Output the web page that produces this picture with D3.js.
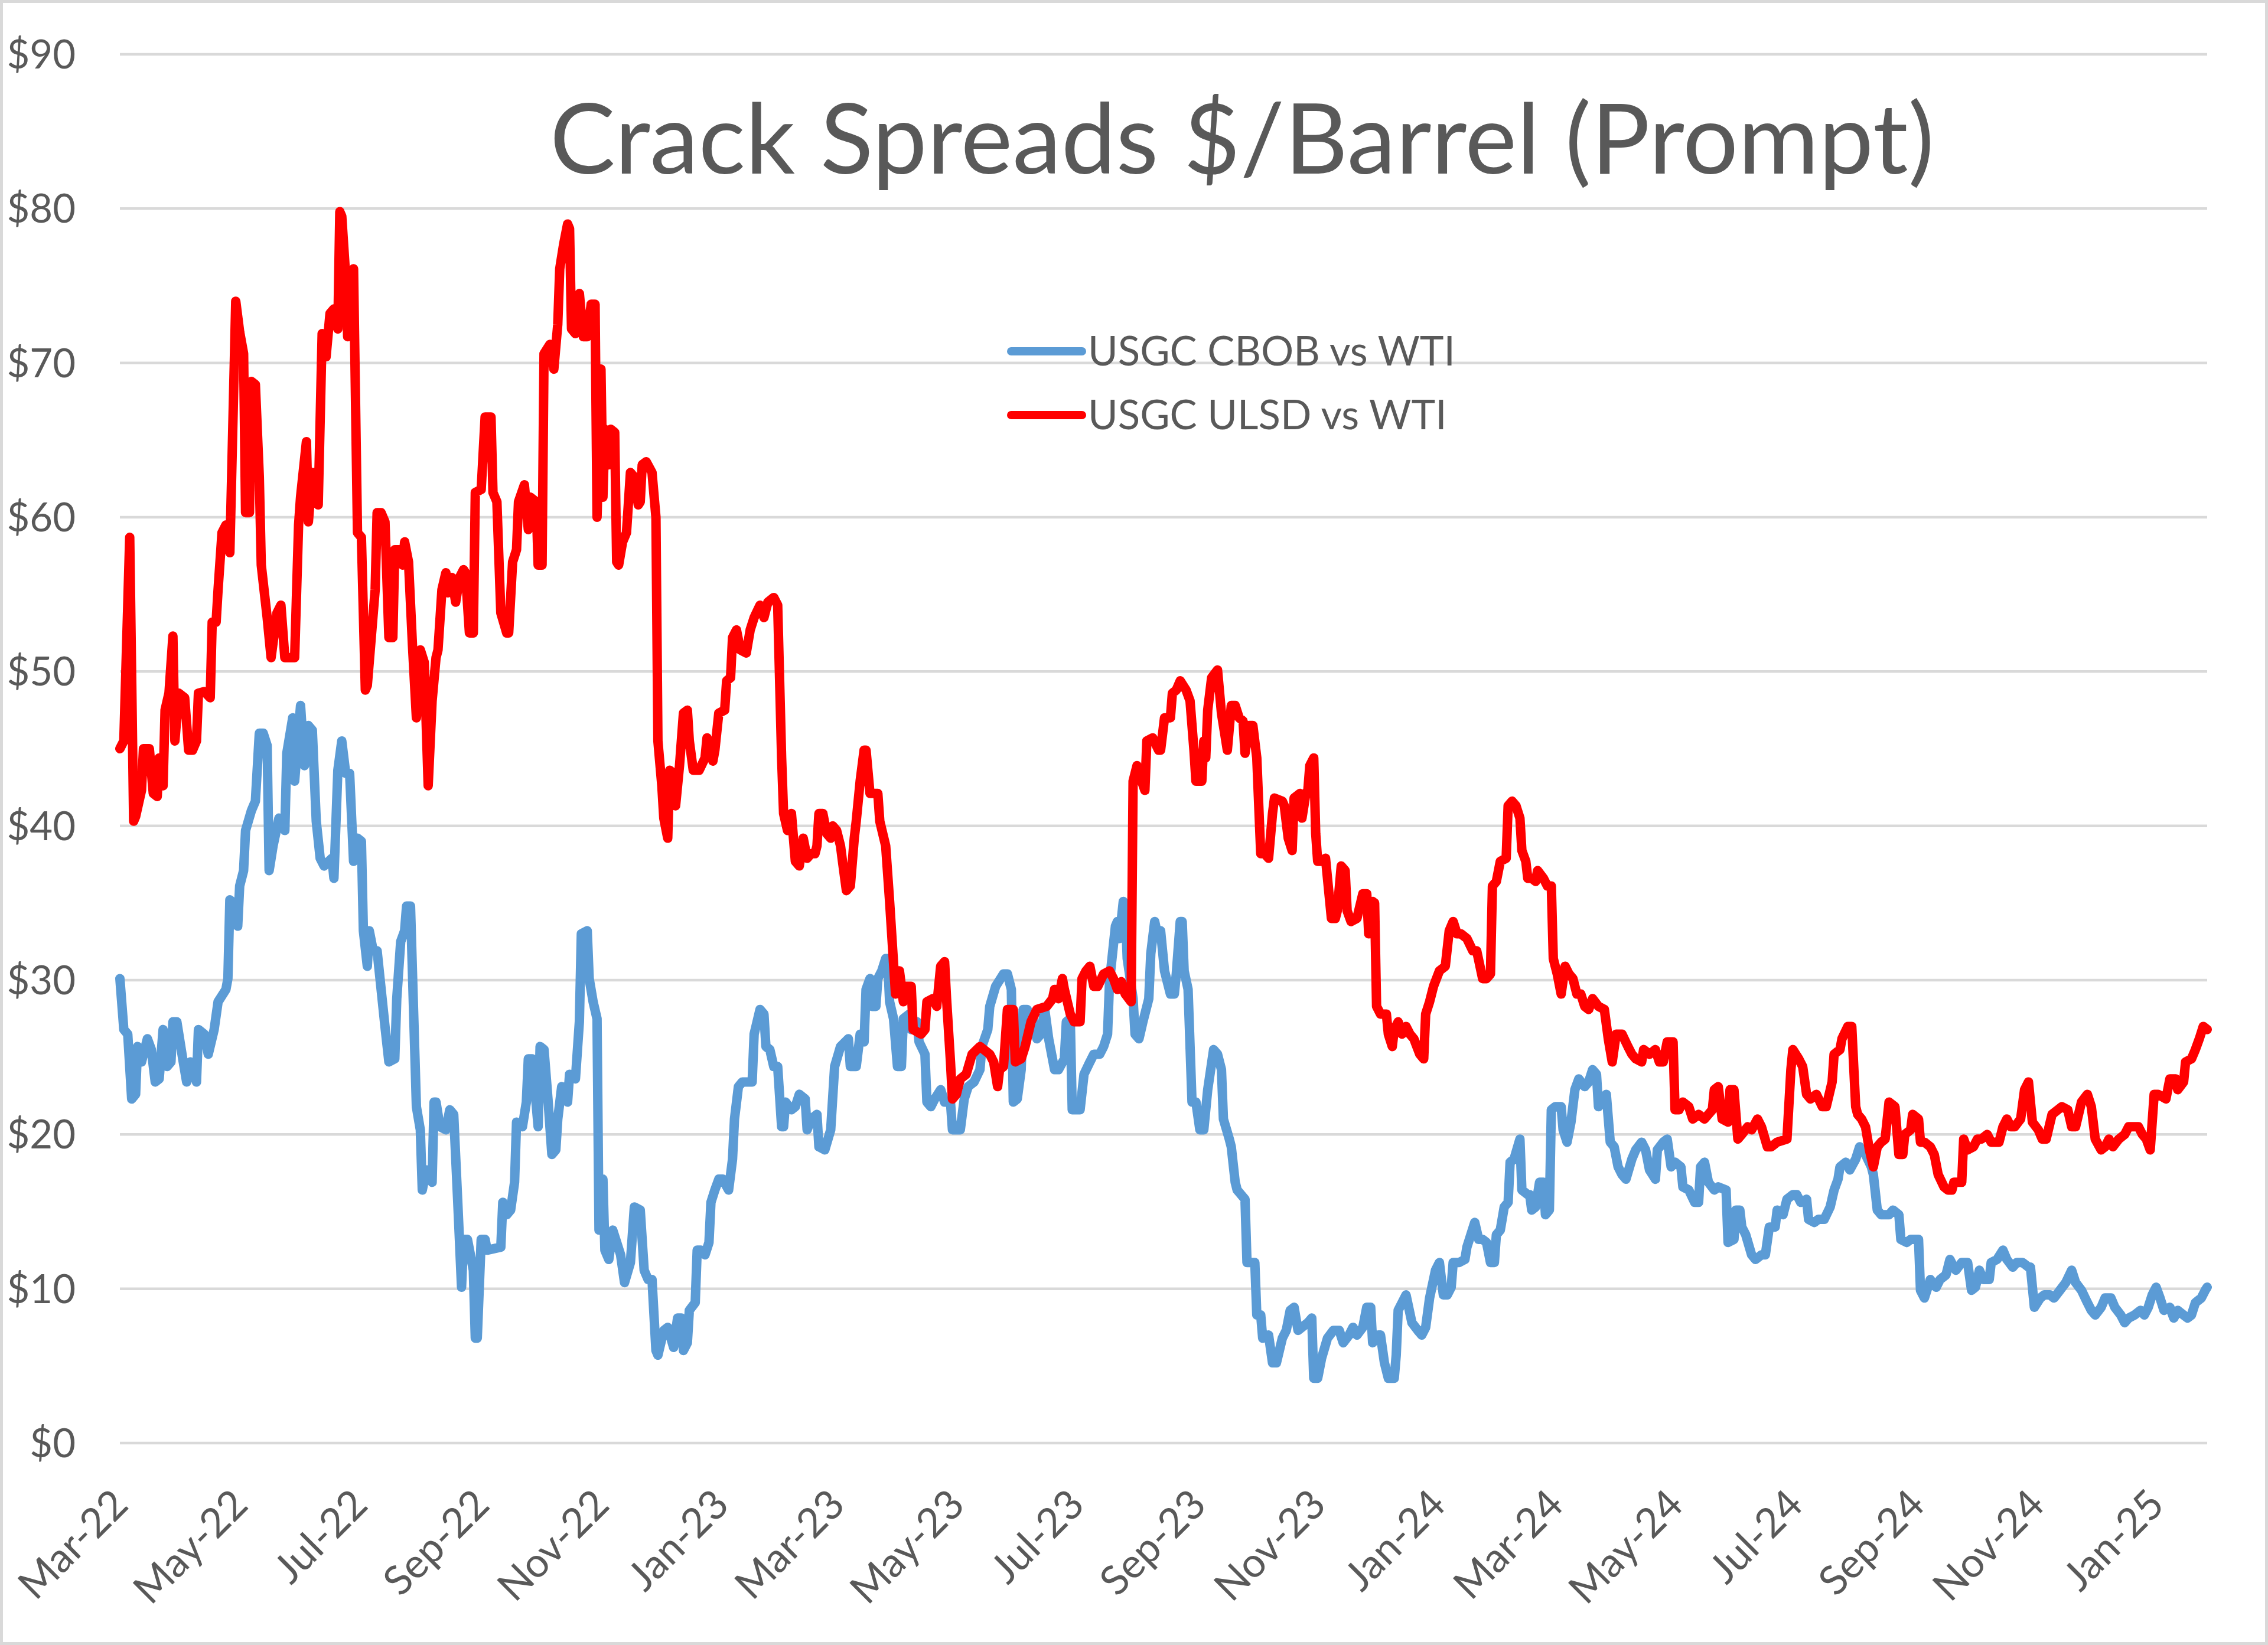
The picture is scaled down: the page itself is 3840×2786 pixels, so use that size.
<!DOCTYPE html>
<html><head><meta charset="utf-8">
<script src="https://cdn.jsdelivr.net/npm/d3@7"></script>
<style>html,body{margin:0;padding:0;background:#fff}</style>
</head><body>
<svg id="chart" width="3840" height="2786"></svg>
<script>
// ---------------- data ----------------
const chartTitle = "Crack Spreads $/Barrel (Prompt)";
const seriesNames = ["USGC CBOB vs WTI", "USGC ULSD vs WTI"];
const seriesColors = ["#5B9BD5", "#FF0000"];
const startDate = "2022-03-01";          // day 0 of the series below
const yTickValues = [0, 10, 20, 30, 40, 50, 60, 70, 80, 90];

// [days since startDate, $/bbl]
const cbobSeries = [
[0,30.1],[2,26.8],[4,26.5],[6,22.3],[8,22.6],[9,25.7],[11,24.7],[14,26.2],[16,25.5],[18,23.4],[20,23.6],[22,26.8],[24,24.4],[26,24.7],[27,27.3],[29,27.3],[32,24.9],[34,23.4],[36,24.7],[39,23.4],[40,26.8],[43,26.5],[45,25.2],[48,26.8],[50,28.6],[54,29.4],[55,30.1],[56,35.2],[57,35.1],[60,33.5],[61,36.1],[63,37.1],[64,39.7],[67,41.0],[69,41.6],[71,46.0],[73,46.0],[75,45.2],[76,37.1],[78,38.7],[81,40.5],[84,39.7],[85,44.7],[88,47.0],[89,42.9],[92,47.8],[94,43.9],[96,46.5],[98,46.2],[100,40.3],[102,37.9],[104,37.4],[108,37.9],[109,36.6],[111,43.6],[113,45.5],[115,43.4],[117,43.4],[119,37.7],[121,39.2],[123,39.0],[124,33.2],[126,30.9],[127,33.2],[129,31.9],[131,31.9],[135,27.0],[137,24.7],[140,24.9],[141,28.8],[143,32.5],[145,33.2],[146,34.8],[148,34.8],[151,21.8],[153,20.3],[154,16.4],[156,17.7],[159,16.9],[160,22.1],[161,22.1],[163,20.5],[166,20.3],[168,21.6],[170,21.3],[172,15.8],[174,10.1],[175,13.2],
[177,13.2],[180,11.2],[181,6.8],[182,6.8],[184,13.2],[186,13.2],[187,12.5],[194,12.7],[195,15.6],[197,14.8],[199,15.1],[201,16.9],[202,20.8],[205,20.5],[207,22.1],[208,24.9],[210,24.9],[213,20.5],[214,25.7],[216,25.5],[218,22.3],[220,18.7],[222,19.0],[223,21.0],[225,23.1],[228,22.1],[229,23.9],[232,23.6],[234,27.3],[235,33.0],[238,33.2],[239,30.1],[241,28.6],[243,27.5],[244,13.8],[245,17.1],[246,17.1],[247,12.5],[249,11.9],[251,13.8],[253,13.0],[255,12.2],[257,10.4],[260,11.7],[262,15.3],[265,15.1],[267,11.2],[269,10.6],[271,10.6],[273,6.0],[274,5.7],[277,7.3],[279,7.5],[282,6.2],[284,8.1],[286,8.1],[287,6.0],[289,6.5],[290,8.6],[293,9.1],[294,12.5],[296,12.5],[298,12.2],[300,13.0],[301,15.6],[303,16.4],[305,17.1],[307,17.1],[310,16.4],[312,18.4],[313,21.0],[315,23.1],[317,23.4],[322,23.4],[323,26.5],[326,28.1],[328,27.8],[329,25.7],[331,25.5],[333,24.4],[335,24.4],[337,20.5],[338,20.5],[339,22.1],[342,21.6],[344,21.8],[346,22.6],[349,22.3],[350,20.3],[352,21.0],
[355,21.3],[356,19.2],[359,19.0],[362,20.3],[364,24.4],[367,25.7],[371,26.2],[372,24.4],[375,24.4],[377,26.5],[379,26.0],[380,29.4],[382,30.1],[383,28.3],[385,28.3],[386,30.1],[388,30.6],[390,31.4],[391,31.4],[392,28.6],[394,27.5],[396,24.4],[398,24.4],[399,27.5],[402,27.8],[403,26.8],[406,27.3],[407,26.0],[410,25.2],[411,22.1],[413,21.8],[415,22.3],[418,22.9],[420,22.1],[423,22.1],[424,20.3],[428,20.3],[430,22.3],[432,23.1],[435,23.4],[438,24.2],[439,25.7],[442,26.8],[443,28.3],[446,29.6],[450,30.4],[452,30.4],[454,29.4],[455,22.1],[457,22.3],[459,24.2],[460,28.1],[462,28.1],[465,27.5],[467,26.2],[469,26.5],[471,28.1],[473,26.2],[476,24.2],[478,24.2],[481,24.9],[482,27.3],[484,27.5],[485,21.6],[489,21.6],[491,23.9],[494,24.7],[496,25.2],[499,25.2],[501,25.7],[503,26.5],[504,29.9],[507,33.5],[508,33.8],[509,32.7],[511,35.1],[512,34.8],[513,31.4],[516,28.8],[517,26.5],[519,26.2],[521,27.3],[524,28.8],[525,31.7],[527,33.8],[528,33.2],[530,33.2],
[532,30.6],[535,29.1],[537,29.1],[538,30.4],[540,33.8],[541,33.8],[542,30.6],[544,29.4],[546,22.1],[548,22.1],[550,20.3],[552,20.3],[554,22.9],[557,25.5],[559,25.2],[561,24.2],[562,21.0],[565,19.7],[566,19.2],[568,16.9],[569,16.4],[573,15.8],[574,11.7],[578,11.7],[579,8.3],[581,8.3],[582,6.8],[585,7.0],[587,5.2],[589,5.2],[592,6.8],[594,7.3],[596,8.6],[598,8.8],[600,7.3],[602,7.5],[605,7.8],[607,8.1],[608,4.2],[610,4.2],[612,5.5],[615,6.8],[618,7.3],[621,7.3],[623,6.5],[626,7.0],[628,7.5],[630,7.0],[633,7.5],[635,8.8],[637,8.8],[638,6.5],[641,7.0],[642,7.0],[644,5.2],[646,4.2],[649,4.2],[650,5.7],[651,8.6],[653,9.1],[655,9.6],[658,7.8],[661,7.3],[663,7.0],[665,7.5],[667,9.4],[670,11.2],[672,11.7],[674,9.6],[676,9.6],[678,10.1],[679,11.7],[682,11.7],[685,11.9],[686,12.7],[688,13.5],[690,14.3],[692,13.2],[694,13.2],[696,13.0],[698,11.7],[700,11.7],[701,13.5],[703,13.8],[705,15.3],[707,15.6],[708,18.2],
[710,18.4],[713,19.7],[714,16.4],[717,16.1],[718,16.1],[719,15.1],[721,15.3],[723,16.9],[725,16.9],[726,14.8],[728,15.1],[729,21.6],[731,21.8],[734,21.8],[735,20.3],[737,19.5],[739,20.8],[741,22.9],[743,23.6],[746,23.1],[748,23.4],[750,24.2],[752,23.9],[753,21.8],[755,22.3],[757,22.6],[759,19.5],[761,19.2],[763,17.9],[765,17.4],[767,17.1],[770,18.4],[772,19.0],[775,19.5],[777,19.0],[779,17.7],[782,17.1],[783,19.0],[786,19.5],[788,19.7],[790,17.9],[792,18.2],[795,17.9],[796,16.6],[799,16.4],[802,15.6],[804,15.6],[805,17.9],[807,18.2],[809,16.9],[812,16.4],[814,16.6],[818,16.4],[819,13.0],[822,13.2],[823,15.1],[825,15.1],[826,14.0],[828,13.5],[831,12.2],[833,11.9],[836,12.2],[838,12.2],[840,14.0],[843,14.0],[844,15.1],[847,14.8],[849,15.8],[852,16.1],[854,16.1],[856,15.6],[859,15.8],[860,14.5],[863,14.3],[865,14.5],[868,14.5],[871,15.3],[873,16.4],[875,17.1],[876,17.9],[879,18.2],[881,17.7],[884,18.4],[886,19.2],
[887,19.0],[889,18.7],[892,17.9],[893,17.4],[895,15.1],[897,14.8],[901,14.8],[903,15.1],[906,14.8],[907,13.2],[910,13.0],[912,13.2],[916,13.2],[917,9.9],[919,9.4],[922,10.6],[925,10.1],[927,10.6],[930,10.9],[932,11.9],[934,11.4],[935,11.2],[938,11.7],[941,11.7],[943,9.9],[945,10.1],[947,11.2],[949,10.6],[952,10.6],[953,11.7],[956,11.9],[959,12.5],[961,11.9],[964,11.4],[966,11.7],[969,11.7],[972,11.4],[973,11.4],[975,8.8],[978,9.4],[980,9.6],[983,9.6],[985,9.4],[988,9.9],[991,10.4],[994,11.2],[996,10.4],[999,9.9],[1002,9.1],[1004,8.6],[1006,8.3],[1009,8.8],[1011,9.4],[1014,9.4],[1016,8.8],[1019,8.3],[1021,7.8],[1023,8.1],[1026,8.3],[1029,8.6],[1031,8.3],[1033,8.8],[1035,9.6],[1037,10.1],[1039,9.4],[1041,8.6],[1044,8.8],[1046,8.1],[1048,8.6],[1051,8.3],[1053,8.1],[1055,8.3],[1057,9.1],[1060,9.4],[1062,9.9],[1063,10.1]
];

const ulsdSeries = [
[0,45.0],[2,45.5],[5,58.7],[7,40.3],[8,40.6],[11,42.3],[12,45.0],[15,45.0],[17,42.1],[19,41.9],[20,44.4],[22,42.6],[23,47.5],[25,48.6],[27,52.3],[28,45.5],[30,48.6],[33,48.3],[35,44.9],[37,44.9],[39,45.5],[40,48.6],[43,48.7],[46,48.3],[47,53.2],[49,53.2],[50,55.3],[52,59.0],[54,59.5],[56,57.7],[59,74.0],[61,72.0],[63,70.6],[64,60.3],[66,60.3],[67,68.8],[69,68.6],[71,62.6],[72,56.9],[75,53.5],[77,50.9],[80,53.8],[82,54.3],[84,50.9],[89,50.9],[91,59.5],[92,61.3],[95,64.9],[96,59.7],[98,62.9],[101,60.8],[103,71.9],[105,70.4],[107,73.2],[109,73.5],[111,72.2],[112,79.8],[113,79.5],[115,75.6],[116,71.7],[117,75.8],[119,76.1],[121,59.0],[123,58.7],[125,48.8],[126,49.1],[128,52.2],[130,55.3],[131,60.3],[133,60.3],[135,59.7],[137,52.2],[139,52.2],[140,57.9],[143,57.9],[144,56.9],[145,58.4],[147,57.1],[149,51.7],[151,47.0],[153,51.4],[155,50.6],[157,42.6],[159,48.1],[161,50.9],[162,51.4],[164,55.3],[166,56.4],[167,55.1],[169,56.1],[171,54.5],[173,56.1],[175,56.6],
[176,56.4],[178,52.5],[180,52.5],[181,61.6],[184,61.8],[186,66.5],[189,66.5],[190,61.6],[192,61.0],[194,53.8],[197,52.5],[198,52.5],[200,57.1],[202,57.9],[203,61.0],[206,62.1],[208,59.2],[209,61.3],[212,61.0],[213,56.9],[215,56.9],[216,70.6],[219,71.2],[221,69.6],[223,72.5],[224,76.1],[226,77.7],[228,79.0],[229,78.7],[230,72.2],[232,71.9],[234,74.5],[236,71.7],[238,71.7],[240,73.8],[242,73.8],[243,60.0],[245,69.6],[246,61.3],[247,65.7],[249,63.4],[250,65.7],[252,65.5],[253,57.1],[254,56.9],[256,58.4],[258,59.0],[260,62.9],[262,62.6],[264,60.8],[265,61.0],[266,63.4],[268,63.6],[271,62.9],[273,60.0],[274,45.5],[276,42.6],[277,40.5],[279,39.2],[280,43.6],[282,43.4],[283,41.3],[285,43.9],[287,47.3],[289,47.5],[290,45.5],[292,43.6],[295,43.6],[298,44.4],[299,45.7],[302,44.2],[303,44.9],[305,47.3],[308,47.5],[309,49.4],[311,49.6],[312,52.2],[314,52.7],[316,51.4],[319,51.2],[321,52.7],[323,53.5],[326,54.3],[328,53.5],[330,54.5],[333,54.8],[335,54.3],[337,44.4],[338,40.8],[340,39.7],[342,40.8],[344,37.7],[346,37.4],[348,39.2],[350,37.9],[352,38.2],
[354,38.2],[355,38.7],[356,40.8],[358,40.8],[360,39.5],[362,39.2],[363,40.0],[365,39.7],[367,38.7],[368,37.7],[370,35.8],[372,36.1],[374,39.2],[375,40.3],[377,42.9],[379,44.9],[380,44.9],[382,42.1],[386,42.1],[387,40.3],[390,38.7],[392,35.1],[395,29.1],[397,30.6],[399,28.6],[400,29.6],[403,29.6],[404,26.8],[408,26.5],[410,26.8],[411,28.6],[414,28.8],[416,28.3],[418,30.9],[420,31.2],[421,28.8],[423,24.7],[424,22.3],[426,22.6],[428,23.6],[431,23.9],[434,25.2],[438,25.7],[443,25.2],[445,24.7],[447,23.1],[448,24.2],[450,24.4],[452,28.1],[455,28.1],[456,24.7],[459,24.9],[461,25.7],[464,27.3],[467,28.1],[472,28.3],[475,28.8],[476,29.4],[478,28.8],[480,30.1],[481,29.4],[484,27.8],[486,27.3],[489,27.3],[490,30.1],[492,30.6],[494,30.9],[496,29.6],[498,29.6],[501,30.4],[504,30.6],[506,30.1],[508,29.4],[510,29.9],[512,29.1],[515,28.6],[516,42.9],[518,43.9],[519,43.4],[522,42.3],[523,45.5],[526,45.7],[529,44.9],
[530,44.9],[532,47.0],[535,47.0],[536,48.6],[538,48.8],[540,49.4],[543,48.8],[545,48.1],[547,44.9],[548,42.9],[551,42.9],[552,45.5],[553,44.4],[554,47.5],[556,49.6],[559,50.1],[561,47.3],[562,46.5],[564,44.9],[566,47.8],[568,47.8],[570,47.0],[572,46.8],[573,44.7],[575,46.5],[577,46.5],[579,44.4],[581,38.2],[583,38.2],[585,37.9],[587,40.8],[588,41.8],[592,41.6],[593,41.3],[595,39.2],[597,38.4],[598,41.8],[601,42.1],[602,40.5],[604,42.1],[605,42.3],[606,43.9],[608,44.4],[609,39.5],[610,37.7],[612,37.7],[614,37.9],[617,34.0],[619,34.0],[620,34.5],[622,37.4],[624,37.1],[625,34.5],[627,33.8],[630,34.0],[633,35.6],[635,35.6],[636,33.0],[638,35.1],[639,35.0],[640,28.3],[642,27.8],[645,27.8],[646,26.5],[648,25.7],[649,26.8],[651,27.3],[653,26.5],[655,27.0],[657,26.5],[659,26.2],[662,25.2],[664,24.9],[665,27.8],[667,28.6],[669,29.6],[672,30.6],[675,30.9],[677,33.2],[679,33.8],[681,33.0],[683,33.0],[686,32.7],[689,31.9],[691,31.9],[694,30.1],[696,30.1],[698,30.4],[699,36.1],[701,36.4],[703,37.7],[706,37.9],[707,41.3],
[709,41.6],[711,41.3],[713,40.5],[714,38.4],[716,37.7],[717,36.6],[719,36.6],[721,36.4],[722,37.1],[725,36.6],[727,36.1],[729,36.1],[730,31.4],[732,30.4],[734,29.1],[736,30.9],[738,30.4],[740,30.1],[742,29.1],[744,29.1],[746,28.3],[748,28.1],[750,28.8],[753,28.3],[756,28.1],[758,26.2],[760,24.7],[762,26.5],[765,26.5],[768,25.7],[770,25.2],[772,24.9],[775,24.7],[776,25.5],[779,25.2],[782,25.5],[784,24.7],[786,24.7],[788,26.0],[791,26.0],[792,21.6],[794,21.6],[796,22.1],[799,21.8],[801,21.0],[804,21.3],[807,21.0],[811,21.6],[812,22.9],[814,23.1],[816,21.0],[819,20.8],[820,22.9],[822,22.9],[824,19.7],[826,20.0],[829,20.5],[831,20.3],[834,21.0],[836,20.5],[839,19.2],[841,19.2],[844,19.5],[849,19.7],[851,24.2],[852,25.5],[855,24.9],[857,24.4],[859,22.6],[861,22.3],[864,22.6],[867,21.8],[869,21.8],[872,23.4],[873,25.2],[876,25.5],[877,26.2],[880,27.0],[882,27.0],[884,21.8],[885,21.3],
[887,21.0],[889,20.5],[891,19.0],[893,17.9],[895,19.2],[897,19.5],[899,19.7],[901,22.1],[904,21.8],[906,18.7],[908,18.7],[909,20.0],[912,20.3],[913,21.3],[916,21.0],[917,19.5],[919,19.5],[922,19.2],[924,18.7],[926,17.4],[929,16.6],[931,16.4],[933,16.4],[934,16.9],[938,16.9],[939,19.7],[941,19.0],[944,19.2],[946,19.7],[948,19.7],[951,20.0],[953,19.5],[957,19.5],[959,20.5],[961,21.0],[963,20.5],[965,20.5],[968,21.0],[970,22.9],[972,23.4],[974,20.8],[977,20.3],[979,19.7],[981,19.7],[984,21.3],[987,21.6],[989,21.8],[992,21.6],[994,20.5],[996,20.5],[999,22.1],[1002,22.6],[1004,21.8],[1006,19.7],[1009,19.0],[1011,19.2],[1013,19.7],[1015,19.2],[1018,19.7],[1021,20.0],[1023,20.5],[1028,20.5],[1030,20.0],[1032,19.7],[1034,19.0],[1036,22.6],[1038,22.6],[1042,22.3],[1044,23.6],[1047,23.6],[1048,22.9],[1051,23.4],[1052,24.7],[1055,24.9],[1057,25.5],[1059,26.2],[1061,27.0],[1063,26.8]
];

// ---------------- drawing ----------------
const W = 3840, H = 2786;
const M = {left: 203, right: 3737, top: 92, bottom: 2444};
const FONT = "Lato, 'Open Sans', sans-serif";
const TXT = "#595959";
const LINE_W = 16;

const svg = d3.select("#chart");
svg.append("rect").attr("x", 0).attr("y", 0).attr("width", W).attr("height", H).attr("fill", "#fff");
svg.append("rect").attr("x", 2.5).attr("y", 2.5).attr("width", W - 5).attr("height", H - 5)
  .attr("fill", "none").attr("stroke", "#d9d9d9").attr("stroke-width", 5);

const t0 = d3.utcParse("%Y-%m-%d")(startDate);
const dateOf = d => new Date(t0.getTime() + d * 86400000);
const lastDay = d3.max([cbobSeries, ulsdSeries], s => d3.max(s, p => p[0]));

const x = d3.scaleUtc().domain([t0, dateOf(lastDay)]).range([M.left, M.right]);
const y = d3.scaleLinear().domain([0, 90]).range([M.bottom, M.top]);

// gridlines
svg.append("g").selectAll("line").data(yTickValues).join("line")
  .attr("x1", M.left).attr("x2", M.right)
  .attr("y1", d => y(d)).attr("y2", d => y(d))
  .attr("stroke", "#d9d9d9").attr("stroke-width", 4.5);

// y axis
const gy = svg.append("g").attr("transform", `translate(${M.left},0)`)
  .call(d3.axisLeft(y).tickValues(yTickValues).tickSize(0).tickPadding(75).tickFormat(d => "$" + d));
gy.select(".domain").remove();
gy.attr("font-family", FONT).attr("font-size", 67);
gy.selectAll("text").attr("fill", TXT).attr("dy", "0.35em");

// x axis
const gx = svg.append("g").attr("transform", `translate(0,2535)`)
  .call(d3.axisBottom(x).ticks(d3.utcMonth.every(2)).tickFormat(d3.utcFormat("%b-%y")).tickSize(0).tickPadding(0));
gx.select(".domain").remove();
gx.attr("font-family", FONT).attr("font-size", 69);
gx.selectAll("text").attr("fill", TXT).attr("y", 0).attr("dy", "0.35em")
  .attr("transform", "rotate(-45)").attr("text-anchor", "end");

// lines
const line = d3.line().x(p => x(dateOf(p[0]))).y(p => y(p[1]));
[cbobSeries, ulsdSeries].forEach((s, i) => {
  svg.append("path").datum(s).attr("d", line)
    .attr("fill", "none").attr("stroke", seriesColors[i]).attr("stroke-width", LINE_W)
    .attr("stroke-linejoin", "round").attr("stroke-linecap", "round");
});

// legend
const lg = svg.append("g");
seriesNames.forEach((name, i) => {
  const ly = 595 + i * 108;
  lg.append("line").attr("x1", 1712).attr("x2", 1832).attr("y1", ly).attr("y2", ly)
    .attr("stroke", seriesColors[i]).attr("stroke-width", 14).attr("stroke-linecap", "round");
  lg.append("text").attr("x", 1842).attr("y", ly).attr("dy", "0.35em")
    .attr("font-family", FONT).attr("font-size", 69).attr("fill", TXT).text(name);
});

// title
const tt = svg.append("text").attr("x", 2103).attr("y", 294).attr("text-anchor", "middle")
  .attr("font-family", FONT).attr("font-size", 170).attr("fill", TXT).text(chartTitle);
const tw = tt.node().getComputedTextLength();
tt.attr("font-size", 170 * 2344 / tw);
</script>
</body></html>
